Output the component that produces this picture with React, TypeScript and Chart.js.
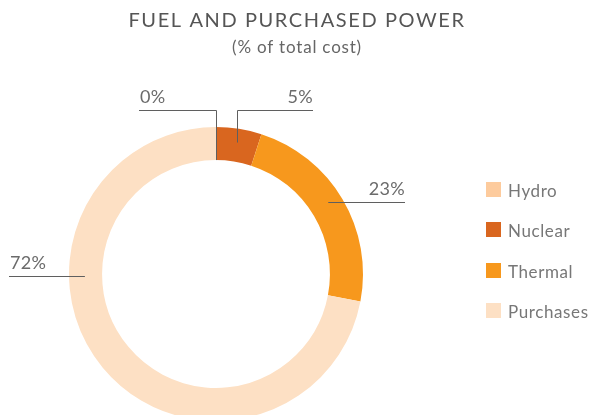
import React, { useEffect, useRef } from 'react';
import { Chart, registerables } from 'chart.js';

Chart.register(...registerables);

const titleText = 'FUEL AND PURCHASED POWER';
const subtitleText = '(% of total cost)';
const categories = ['Hydro', 'Nuclear', 'Thermal', 'Purchases'];
const shares = [0, 5, 23, 72];
const sliceColors = ['#FDCB9D', '#D9661F', '#F7981D', '#FDE0C4'];

// callout layout: position along slice (t), across ring (r: 0 inner -> 1 outer),
// elbow line y (null = straight), far end x, text alignment
const calloutT = [0, 0.5, 0.477, 0.649];
const calloutR = [0, 0.58, 0.58, 0.52];
const calloutElbowY = [110, 110, null, null];
const calloutEndX = [139, 313, 405, 9];
const calloutAlign = ['left', 'right', 'right', 'left'];

const W = 592;
const H = 440;
const FONT = 'Lato, "Open Sans", sans-serif';

const overlayPlugin = {
  id: 'overlay',
  afterDraw(chart: any) {
    const ctx = chart.ctx as CanvasRenderingContext2D;
    ctx.save();
    // title
    ctx.fillStyle = '#555555';
    ctx.textAlign = 'center';
    ctx.textBaseline = 'alphabetic';
    ctx.font = `400 20px ${FONT}`;
    (ctx as any).letterSpacing = '1.6px';
    ctx.fillText(titleText, W / 2 + 1, 27);
    ctx.font = `400 17px ${FONT}`;
    (ctx as any).letterSpacing = '0.8px';
    ctx.fillStyle = '#666666';
    ctx.fillText(subtitleText, W / 2 + 1, 53);
    (ctx as any).letterSpacing = '0px';

    // callouts
    const meta = chart.getDatasetMeta(0);
    meta.data.forEach((arc: any, i: number) => {
      const p = arc.getProps(['x', 'y', 'startAngle', 'endAngle', 'innerRadius', 'outerRadius'], true);
      const ang = p.startAngle + (p.endAngle - p.startAngle) * calloutT[i];
      const rr = p.innerRadius + (p.outerRadius - p.innerRadius) * calloutR[i];
      const ax = p.x + rr * Math.cos(ang);
      const ay = p.y + rr * Math.sin(ang);
      const elbow = calloutElbowY[i];
      const lineY = elbow === null ? ay : elbow;
      ctx.strokeStyle = '#5f5f5f';
      ctx.lineWidth = 1;
      ctx.beginPath();
      if (elbow !== null) {
        ctx.moveTo(Math.round(ax) + 0.5, ay);
        ctx.lineTo(Math.round(ax) + 0.5, Math.round(lineY) + 0.5);
        ctx.lineTo(calloutEndX[i], Math.round(lineY) + 0.5);
      } else {
        ctx.moveTo(ax, Math.round(lineY) + 0.5);
        ctx.lineTo(calloutEndX[i], Math.round(lineY) + 0.5);
      }
      ctx.stroke();
      ctx.fillStyle = '#6b6b6b';
      ctx.font = `400 18px ${FONT}`;
      (ctx as any).letterSpacing = '0.3px';
      ctx.textAlign = calloutAlign[i] as CanvasTextAlign;
      const tx = calloutAlign[i] === 'left' ? calloutEndX[i] + 1 : calloutEndX[i];
      ctx.fillText(`${shares[i]}%`, tx, Math.round(lineY) - 7);
      (ctx as any).letterSpacing = '0px';
    });

    // legend
    ctx.textAlign = 'left';
    ctx.font = `400 17px ${FONT}`;
    (ctx as any).letterSpacing = '0.6px';
    categories.forEach((c, i) => {
      const top = 182 + i * 40.3;
      ctx.fillStyle = sliceColors[i];
      ctx.fillRect(486, Math.round(top), 15, 15);
      ctx.fillStyle = '#777777';
      ctx.fillText(c, 508, Math.round(top) + 15);
    });
    (ctx as any).letterSpacing = '0px';
    ctx.restore();
  },
};

export default function App() {
  const ref = useRef<HTMLCanvasElement | null>(null);
  useEffect(() => {
    if (!ref.current) return;
    const chart = new Chart(ref.current, {
      type: 'doughnut',
      data: {
        labels: categories,
        datasets: [
          {
            data: shares,
            backgroundColor: sliceColors,
            borderWidth: 0,
          },
        ],
      },
      options: {
        responsive: false,
        animation: false,
        devicePixelRatio: 1,
        cutout: '77.5%',
        layout: { padding: { left: 69, right: 229, top: 127, bottom: 19 } },
        plugins: {
          legend: { display: false },
          title: { display: false },
          tooltip: { enabled: false },
        },
      },
      plugins: [overlayPlugin],
    });
    return () => chart.destroy();
  }, []);
  return (
    <div style={{ position: 'fixed', left: 0, top: 0, width: W, height: 415, overflow: 'hidden', background: '#fff' }}>
      <canvas ref={ref} width={W} height={H} style={{ display: 'block', width: W, height: H }} />
    </div>
  );
}
